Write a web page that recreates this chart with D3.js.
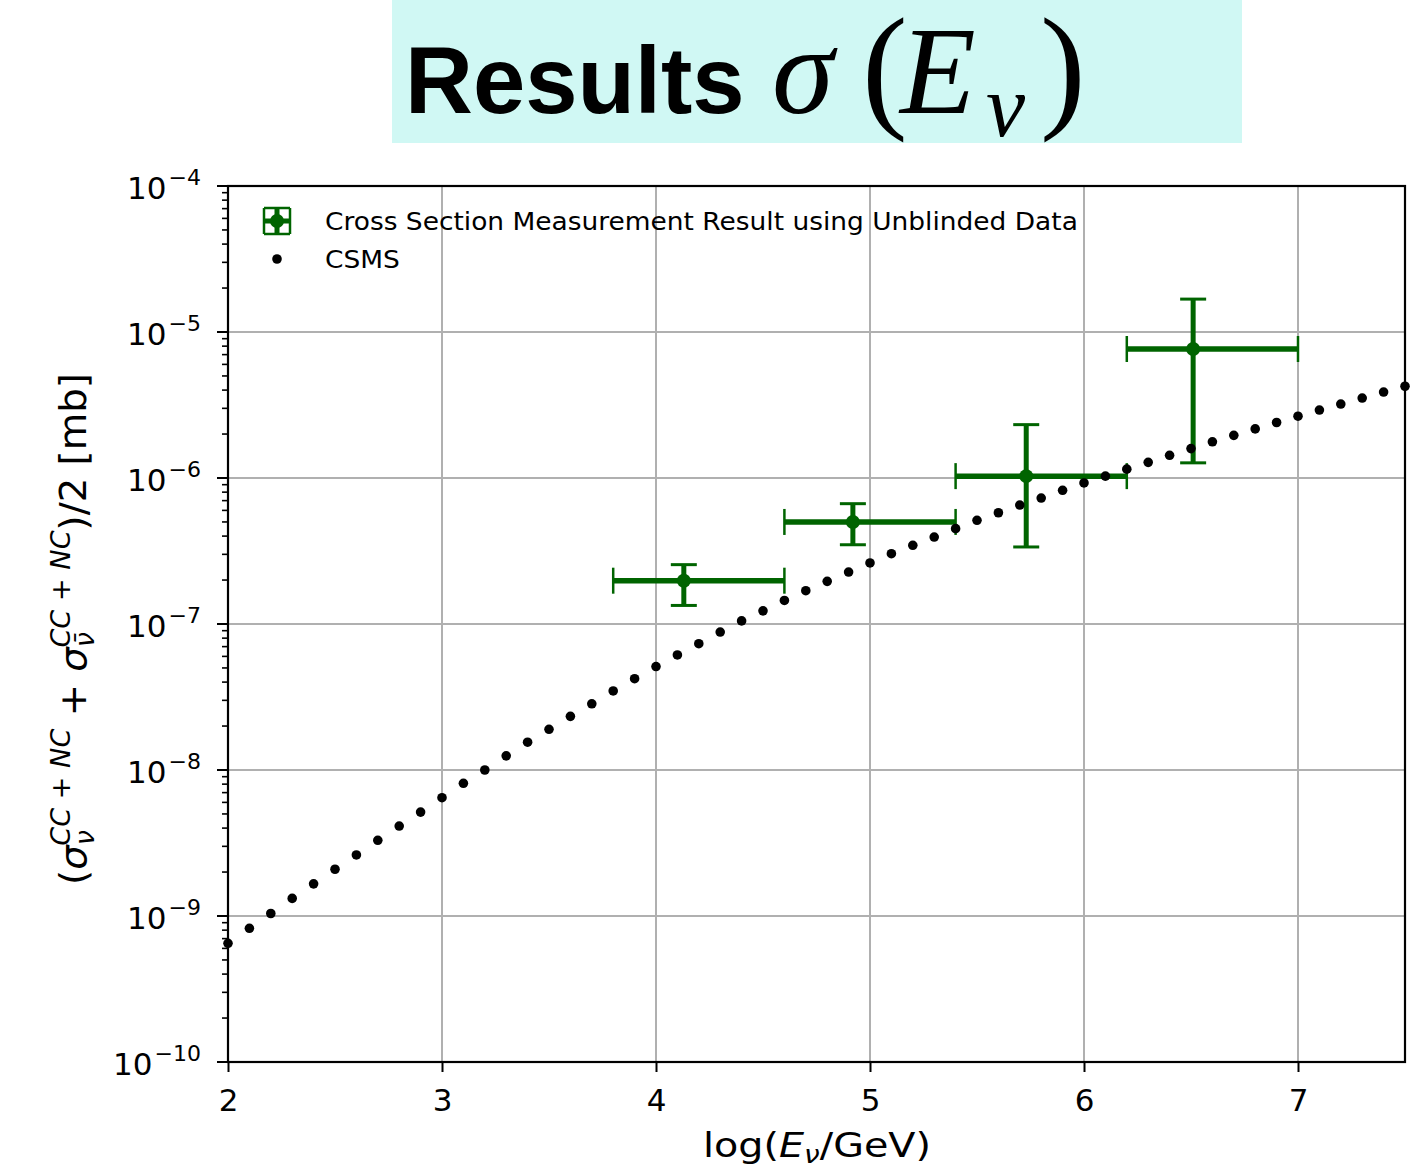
<!DOCTYPE html>
<html>
<head>
<meta charset="utf-8">
<script src="https://cdn.jsdelivr.net/npm/d3@7"></script>
<style>
  body { margin: 0; background: #fff; }
  svg { display: block; }
</style>
</head>
<body>
<div class="canvas"></div>
<script>
// CSMS prediction, log10(E/GeV) and cross section [mb]
const csmsLogE = [2.0, 2.1, 2.2, 2.3, 2.4, 2.5, 2.6, 2.7, 2.8, 2.9,
  3.0, 3.1, 3.2, 3.3, 3.4, 3.5, 3.6, 3.7, 3.8, 3.9,
  4.0, 4.1, 4.2, 4.3, 4.4, 4.5, 4.6, 4.7, 4.8, 4.9,
  5.0, 5.1, 5.2, 5.3, 5.4, 5.5, 5.6, 5.7, 5.8, 5.9,
  6.0, 6.1, 6.2, 6.3, 6.4, 6.5, 6.6, 6.7, 6.8, 6.9,
  7.0, 7.1, 7.2, 7.3, 7.4, 7.5];
const csmsSigma = [6.50e-10, 8.24e-10, 1.04e-9, 1.32e-9, 1.66e-9, 2.09e-9, 2.62e-9, 3.30e-9, 4.13e-9, 5.15e-9,
  6.46e-9, 8.11e-9, 1.00e-8, 1.25e-8, 1.55e-8, 1.90e-8, 2.33e-8, 2.84e-8, 3.48e-8, 4.22e-8,
  5.11e-8, 6.14e-8, 7.33e-8, 8.81e-8, 1.05e-7, 1.23e-7, 1.45e-7, 1.69e-7, 1.96e-7, 2.27e-7,
  2.62e-7, 3.03e-7, 3.46e-7, 3.94e-7, 4.50e-7, 5.13e-7, 5.78e-7, 6.53e-7, 7.29e-7, 8.24e-7,
  9.25e-7, 1.03e-6, 1.15e-6, 1.28e-6, 1.43e-6, 1.59e-6, 1.77e-6, 1.96e-6, 2.17e-6, 2.40e-6,
  2.65e-6, 2.92e-6, 3.21e-6, 3.53e-6, 3.88e-6, 4.25e-6];

// Measurement (unblinded data)
const measLogE = [4.13, 4.92, 5.73, 6.51];
const measBinLo = [3.8, 4.6, 5.4, 6.2];
const measBinHi = [4.6, 5.4, 6.2, 7.0];
const measSigma = [1.98e-7, 5.0e-7, 1.03e-6, 7.65e-6];
const measSigmaLo = [1.34e-7, 3.49e-7, 3.37e-7, 1.27e-6];
const measSigmaHi = [2.55e-7, 6.67e-7, 2.32e-6, 1.68e-5];

// Ticks
const xTicks = [2, 3, 4, 5, 6, 7];
const yExponents = [-4, -5, -6, -7, -8, -9, -10];
const legendLabels = ["Cross Section Measurement Result using Unblinded Data", "CSMS"];

const dims = { width: 1419, height: 1171 };
const plot = { left: 228, right: 1405, top: 186, bottom: 1062 };
const green = "#006400";
const font = "'DejaVu Sans', sans-serif";
const serif = "'Liberation Serif', 'DejaVu Serif', serif";

const svg = d3
  .select(".canvas")
  .append("svg")
  .attr("width", dims.width)
  .attr("height", dims.height);

// Title banner
svg.append("rect")
  .attr("x", 392).attr("y", 0)
  .attr("width", 850).attr("height", 143)
  .attr("fill", "#d0f8f4");

svg.append("text")
  .attr("x", 405).attr("y", 113)
  .attr("font-size", 94)
  .attr("font-family", "'Liberation Sans', Arial, sans-serif")
  .attr("font-weight", "bold")
  .text("Results");

// math part of the title: sigma(E_nu)
const titleMath = [
  { t: "σ", x: 772, y: 113, size: 125, italic: true },
  { t: "(", x: 862, y: 113, size: 137, italic: false },
  { t: "E", x: 900, y: 113, size: 124, italic: true },
  { t: "ν", x: 986, y: 136, size: 88, italic: true },
  { t: ")", x: 1040, y: 113, size: 137, italic: false },
];
svg.append("g").selectAll("text").data(titleMath).enter().append("text")
  .attr("x", (d) => d.x).attr("y", (d) => d.y)
  .attr("font-family", serif)
  .attr("font-size", (d) => d.size)
  .attr("font-style", (d) => (d.italic ? "italic" : "normal"))
  .text((d) => d.t);

// Scales
const x = d3.scaleLinear().domain([2, 7.5]).range([plot.left, plot.right]);
const y = d3.scaleLog().domain([1e-10, 1e-4]).range([plot.bottom, plot.top]);

// Grid
const grid = svg.append("g").attr("stroke", "#b0b0b0").attr("stroke-width", 2);
grid.selectAll("line.gx").data(xTicks).enter().append("line")
  .attr("x1", (d) => x(d)).attr("x2", (d) => x(d))
  .attr("y1", plot.top).attr("y2", plot.bottom);
grid.selectAll("line.gy").data(yExponents).enter().append("line")
  .attr("x1", plot.left).attr("x2", plot.right)
  .attr("y1", (d) => y(Math.pow(10, d))).attr("y2", (d) => y(Math.pow(10, d)));

// Error bars
const meas = measLogE.map((e, i) => ({
  e, lo: measBinLo[i], hi: measBinHi[i],
  s: measSigma[i], sLo: measSigmaLo[i], sHi: measSigmaHi[i],
}));
const eb = svg.append("g").attr("stroke", green).attr("fill", green);
const ebG = eb.selectAll("g").data(meas).enter().append("g");
ebG.append("line")
  .attr("x1", (d) => x(d.lo)).attr("x2", (d) => x(d.hi))
  .attr("y1", (d) => y(d.s)).attr("y2", (d) => y(d.s))
  .attr("stroke-width", 5.5);
ebG.append("line")
  .attr("x1", (d) => x(d.e)).attr("x2", (d) => x(d.e))
  .attr("y1", (d) => y(d.sLo)).attr("y2", (d) => y(d.sHi))
  .attr("stroke-width", 5);
// caps
[(d) => x(d.lo), (d) => x(d.hi)].forEach((fx) => {
  ebG.append("line")
    .attr("x1", fx).attr("x2", fx)
    .attr("y1", (d) => y(d.s) - 13).attr("y2", (d) => y(d.s) + 13)
    .attr("stroke-width", 2.5);
});
[(d) => y(d.sLo), (d) => y(d.sHi)].forEach((fy) => {
  ebG.append("line")
    .attr("x1", (d) => x(d.e) - 13).attr("x2", (d) => x(d.e) + 13)
    .attr("y1", fy).attr("y2", fy)
    .attr("stroke-width", 3);
});
ebG.append("circle")
  .attr("cx", (d) => x(d.e)).attr("cy", (d) => y(d.s))
  .attr("r", 7).attr("stroke", "none");

// CSMS dots
svg.append("g").selectAll("circle")
  .data(csmsLogE.map((e, i) => [e, csmsSigma[i]]))
  .enter().append("circle")
  .attr("cx", (d) => x(d[0])).attr("cy", (d) => y(d[1]))
  .attr("r", 4.8).attr("fill", "#000");

// Spines
svg.append("rect")
  .attr("x", plot.left).attr("y", plot.top)
  .attr("width", plot.right - plot.left).attr("height", plot.bottom - plot.top)
  .attr("fill", "none").attr("stroke", "#000").attr("stroke-width", 2.2);

// X axis
const xAxis = d3.axisBottom(x).tickValues(xTicks).tickSize(10).tickPadding(17)
  .tickFormat(d3.format("d"));
const gx = svg.append("g").attr("transform", `translate(0, ${plot.bottom})`).call(xAxis);
gx.select(".domain").remove();
gx.selectAll(".tick line").attr("stroke-width", 2);
gx.selectAll("text").attr("font-family", font).attr("font-size", 31).attr("fill", "#000");

// Y axis: major and minor ticks
const minor = [];
for (let k = -10; k < -4; k++) {
  for (let m = 2; m <= 9; m++) minor.push(m * Math.pow(10, k));
}
svg.append("g").selectAll("line").data(minor).enter().append("line")
  .attr("x1", plot.left - 6).attr("x2", plot.left)
  .attr("y1", (d) => y(d)).attr("y2", (d) => y(d))
  .attr("stroke", "#000").attr("stroke-width", 1.6);
const yt = svg.append("g").selectAll("g").data(yExponents).enter().append("g")
  .attr("transform", (d) => `translate(0, ${y(Math.pow(10, d))})`);
yt.append("line")
  .attr("x1", plot.left - 11).attr("x2", plot.left)
  .attr("stroke", "#000").attr("stroke-width", 2);
const ytText = yt.append("text")
  .attr("x", plot.left - 27).attr("y", 13)
  .attr("text-anchor", "end")
  .attr("font-family", font).attr("font-size", 31).attr("fill", "#000");
ytText.append("tspan").text("10");
ytText.append("tspan").attr("font-size", 22).attr("dx", 2).attr("dy", -14).text((d) => "\u2212" + Math.abs(d));

// Axis labels
const xl = svg.append("text")
  .attr("text-anchor", "middle")
  .attr("font-family", font).attr("font-size", 34).attr("fill", "#000");
xl.append("tspan").text("log(");
xl.append("tspan").attr("font-style", "italic").text("E");
xl.append("tspan").attr("font-style", "italic").attr("font-size", 24).attr("dy", 6).text("ν");
xl.append("tspan").attr("dy", -6).text("/GeV)");
const xlb = xl.node().getBBox();
xl.attr("transform", `translate(817, 1157) scale(${228 / xlb.width}, 1) translate(${-(xlb.x + xlb.width / 2)}, 0)`);

const yl = svg.append("text")
  .attr("text-anchor", "middle")
  .attr("font-family", font).attr("font-size", 37).attr("fill", "#000");
yl.append("tspan").text("(");
yl.append("tspan").attr("font-style", "italic").text("σ");
yl.append("tspan").attr("font-style", "italic").attr("font-size", 26).attr("dy", 8).text("ν");
yl.append("tspan").attr("font-style", "italic").attr("font-size", 26).attr("dx", -15).attr("dy", -24).text("CC");
yl.append("tspan").attr("font-size", 26).text(" + ");
yl.append("tspan").attr("font-style", "italic").attr("font-size", 26).text("NC");
yl.append("tspan").attr("dy", 16).text(" + ");
yl.append("tspan").attr("font-style", "italic").text("σ");
yl.append("tspan").attr("font-style", "italic").attr("font-size", 26).attr("dy", 8).text("ν\u0304");
yl.append("tspan").attr("font-style", "italic").attr("font-size", 26).attr("dx", -15).attr("dy", -24).text("CC");
yl.append("tspan").attr("font-size", 26).text(" + ");
yl.append("tspan").attr("font-style", "italic").attr("font-size", 26).text("NC");
yl.append("tspan").attr("dy", 16).text(")/2 [mb]");
const ylb = yl.node().getBBox();
yl.attr("transform", `translate(86, 629) rotate(-90) scale(${512 / ylb.width}, 1) translate(${-(ylb.x + ylb.width / 2)}, 0)`);

// Legend
const lg = svg.append("g");
const lx = 277, ly1 = 221, ly2 = 259;
lg.append("line").attr("x1", lx - 13).attr("x2", lx + 13).attr("y1", ly1).attr("y2", ly1)
  .attr("stroke", green).attr("stroke-width", 5);
lg.append("line").attr("x1", lx).attr("x2", lx).attr("y1", ly1 - 13).attr("y2", ly1 + 13)
  .attr("stroke", green).attr("stroke-width", 5);
[-13, 13].forEach((o) => {
  lg.append("line").attr("x1", lx + o).attr("x2", lx + o).attr("y1", ly1 - 13).attr("y2", ly1 + 13)
    .attr("stroke", green).attr("stroke-width", 2.5);
  lg.append("line").attr("x1", lx - 13).attr("x2", lx + 13).attr("y1", ly1 + o).attr("y2", ly1 + o)
    .attr("stroke", green).attr("stroke-width", 2.5);
});
lg.append("circle").attr("cx", lx).attr("cy", ly1).attr("r", 7).attr("fill", green);
lg.append("circle").attr("cx", lx).attr("cy", ly2).attr("r", 4.8).attr("fill", "#000");
lg.selectAll("text").data(legendLabels).enter().append("text")
  .attr("transform", (d, i) => `translate(325, ${(i === 0 ? ly1 : ly2) + 9}) scale(1.058, 1)`)
  .attr("font-family", font).attr("font-size", 25).attr("fill", "#000")
  .text((d) => d);
</script>
</body>
</html>
